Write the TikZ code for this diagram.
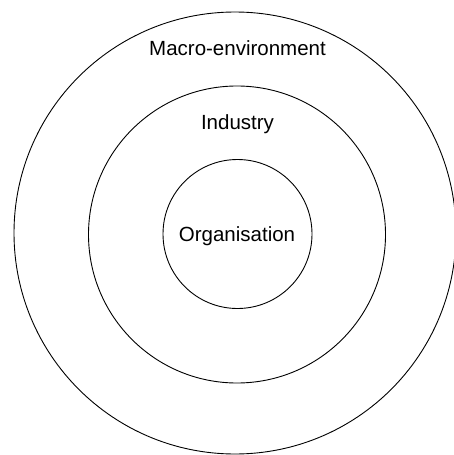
\documentclass[tikz,border=0pt]{standalone}
\usepackage{fontspec}
\setmainfont{Liberation Sans}
\begin{document}
\begin{tikzpicture}[x=1pt,y=-1pt,
  ring/.style={circle,draw,line width=0.9pt,inner sep=0pt},
  lbl/.style={font=\fontsize{20.5}{24}\selectfont,anchor=base,inner sep=0pt}]
\useasboundingbox (0,0) rectangle (454,455);
\node[ring,minimum size=442pt] (macro) at (235,233) {};
\node[ring,minimum size=297pt] (ind) at (237,234.5) {};
\node[ring,minimum size=149pt] (org) at (237.5,234) {};
\node[lbl] (tmacro) at (237.5,55) {Macro-environment};
\node[lbl] (tind) at (237.5,129) {Industry};
\node[lbl] (torg) at (237,241) {Organisation};
\end{tikzpicture}
\end{document}
